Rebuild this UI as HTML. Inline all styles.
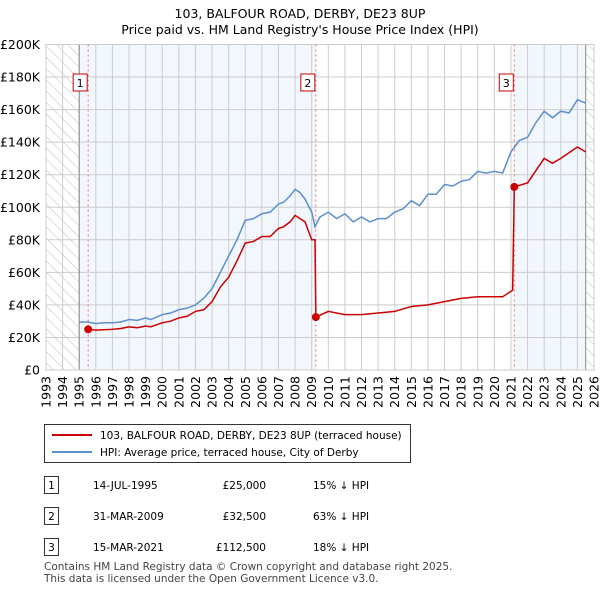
<!DOCTYPE html>
<html><head><meta charset="utf-8"><style>
body{margin:0;background:#fff;font-family:"Liberation Sans","DejaVu Sans",sans-serif;}
svg{display:block}
text{font-family:"DejaVu Sans","Liberation Sans",sans-serif;}
</style></head><body>
<svg id="c" width="600" height="590" xmlns="http://www.w3.org/2000/svg">
<defs><pattern id="hatch" width="8" height="8" patternUnits="userSpaceOnUse" patternTransform="rotate(-45)"><line x1="0" y1="0" x2="0" y2="8" stroke="#bbb" stroke-width="1"/></pattern></defs>
<text x="300" y="18" text-anchor="middle" font-size="12.5">103, BALFOUR ROAD, DERBY, DE23 8UP</text>
<text x="300" y="34" text-anchor="middle" font-size="12.5">Price paid vs. HM Land Registry's House Price Index (HPI)</text>
<g id="plot"></g>
<g>
<rect x="44.5" y="424.5" width="366" height="38" fill="#fff" stroke="#333"/>
<line x1="52" y1="435" x2="92" y2="435" stroke="#cc0000" stroke-width="2"/>
<text x="100" y="439" font-size="10.5">103, BALFOUR ROAD, DERBY, DE23 8UP (terraced house)</text>
<line x1="52" y1="452" x2="92" y2="452" stroke="#5b8fd0" stroke-width="2"/>
<text x="100" y="456" font-size="10.5">HPI: Average price, terraced house, City of Derby</text>
</g>
<g id="table" font-size="10.5"></g>
<text x="44" y="570" font-size="10.5" fill="#444">Contains HM Land Registry data © Crown copyright and database right 2025.</text>
<text x="44" y="582" font-size="10.5" fill="#444">This data is licensed under the Open Government Licence v3.0.</text>
</svg>
<script>
const hpiYears=[1995,1995.5,1996,1996.5,1997,1997.5,1998,1998.5,1999,1999.3,2000,2000.5,2001,2001.5,2002,2002.5,2003,2003.5,2004,2004.5,2005,2005.5,2006,2006.5,2007,2007.3,2007.7,2008,2008.3,2008.6,2009,2009.2,2009.5,2010,2010.5,2011,2011.5,2012,2012.5,2013,2013.5,2014,2014.5,2015,2015.5,2016,2016.5,2017,2017.5,2018,2018.5,2019,2019.5,2020,2020.5,2021,2021.5,2022,2022.5,2023,2023.5,2024,2024.5,2025,2025.5];
const hpiValues=[29.5,29.5,28.5,29,29,29.5,31,30.5,32,31,34,35,37,38,40,44,50,60,70,80,92,93,96,97,102,103,107,111,109,105,97,88,94,97,93,96,91,94,91,93,93,97,99,104,101,108,108,114,113,116,117,122,121,122,121,134,141,143,152,159,155,159,158,166,164];
const priceYears=[1995.54,1996,1997,1997.5,1998,1998.5,1999,1999.3,2000,2000.5,2001,2001.5,2002,2002.5,2003,2003.5,2004,2004.5,2005,2005.5,2006,2006.5,2007,2007.3,2007.7,2008,2008.3,2008.6,2009,2009.2,2009.25,2010,2011,2012,2013,2014,2015,2016,2017,2018,2019,2020,2020.5,2021.1,2021.2,2022,2023,2023.5,2024,2025,2025.5];
const priceValues=[25,24.5,25,25.5,26.5,26,27,26.5,29,30,32,33,36,37,42,51,57,67,78,79,82,82,87,88,91,95,93,91,80,80,32.5,36,34,34,35,36,39,40,42,44,45,45,45,49,112.5,115,130,127,130,137,134];
const saleLabels=["1","2","3"];
const saleYears=[1995.54,2009.25,2021.2];
const saleValues=[25,32.5,112.5];
const saleDates=["14-JUL-1995","31-MAR-2009","15-MAR-2021"];
const salePrices=["£25,000","£32,500","£112,500"];
const saleHpi=["15% ↓ HPI","63% ↓ HPI","18% ↓ HPI"];
const yTicks=[0,20,40,60,80,100,120,140,160,180,200];
const xTicks=[1993,1994,1995,1996,1997,1998,1999,2000,2001,2002,2003,2004,2005,2006,2007,2008,2009,2010,2011,2012,2013,2014,2015,2016,2017,2018,2019,2020,2021,2022,2023,2024,2025,2026];

const X0=46,X1=594,Y0=370,Y1=44.5;
const xs=y=>X0+(y-1993)/(2026-1993)*(X1-X0);
const ys=v=>Y0-v/200*(Y0-Y1);
const NS="http://www.w3.org/2000/svg";
const g=document.getElementById('plot');
function el(t,a,p){const e=document.createElementNS(NS,t);for(const k in a)e.setAttribute(k,a[k]);(p||g).appendChild(e);return e;}
let e;
e=el('rect',{x:X0,y:Y1,width:X1-X0,height:Y0-Y1,fill:'#fff'});


e=el('rect',{x:xs(1995),y:Y1,width:xs(saleYears[1])-xs(1995),height:Y0-Y1,fill:'#eef3fc',opacity:0.75});


e=el('rect',{x:xs(saleYears[2]),y:Y1,width:xs(2025.5)-xs(saleYears[2]),height:Y0-Y1,fill:'#eef3fc',opacity:0.75});


e=el('rect',{x:X0,y:Y1,width:xs(1995)-X0,height:Y0-Y1,fill:'url(#hatch)'});


e=el('rect',{x:xs(2025.5),y:Y1,width:X1-xs(2025.5),height:Y0-Y1,fill:'url(#hatch)'});


yTicks.forEach(v=>{
 e=el('line',{x1:X0,x2:X1,y1:ys(v),y2:ys(v),stroke:'#ccc'});
 
 
 e=el('text',{x:40,y:ys(v)+4.5,'text-anchor':'end','font-size':12.5});
 e.textContent=v===0?'£0':'£'+v+'K';
 
 
});
xTicks.forEach(y=>{
 e=el('line',{x1:xs(y),x2:xs(y),y1:Y1,y2:Y0,stroke:'#ccc'});
 
 
 e=el('text',{x:0,y:0,'text-anchor':'end','font-size':12.5,transform:`translate(${xs(y)+4.5},${Y0+6}) rotate(-90)`});
 e.textContent=y;
 
 
});
e=el('line',{x1:xs(1995),x2:xs(1995),y1:Y1,y2:Y0,stroke:'#888'});


e=el('line',{x1:xs(2025.5),x2:xs(2025.5),y1:Y1,y2:Y0,stroke:'#888'});


e=el('rect',{x:X0,y:Y1,width:X1-X0,height:Y0-Y1,fill:'none',stroke:'#ccc'});


saleYears.forEach((y,i)=>{
 e=el('line',{x1:xs(y),x2:xs(y),y1:Y1,y2:Y0,stroke:'#f07070','stroke-dasharray':'2,3'});
 
 
 e=el('rect',{x:xs(y)-15,y:74,width:14,height:17,fill:'#fff',stroke:'#cc0000'});
 
 
 e=el('text',{x:xs(y)-8,y:87,'text-anchor':'middle','font-size':11});
 e.textContent=saleLabels[i];
 
 
});
e=el('polyline',{points:hpiYears.map((y,i)=>xs(y)+','+ys(hpiValues[i])).join(' '),fill:'none',stroke:'#5b8fd0','stroke-width':1.5});


e=el('polyline',{points:priceYears.map((y,i)=>xs(y)+','+ys(priceValues[i])).join(' '),fill:'none',stroke:'#cc0000','stroke-width':1.5});


saleYears.forEach((y,i)=>{
 e=el('circle',{cx:xs(y),cy:ys(saleValues[i]),r:4,fill:'#cc0000'});
 
 
});
const t=document.getElementById('table');
saleYears.forEach((y,i)=>{
 const cy=486+i*31;
 e=el('rect',{x:44.5,y:cy-9.5,width:14,height:17,fill:'#fff',stroke:'#333'},t);
 
 
 e=el('text',{x:51.5,y:cy+3,'text-anchor':'middle'},t);e.textContent=saleLabels[i];
 
 
 e=el('text',{x:93,y:cy+3},t);e.textContent=saleDates[i];
 
 
 e=el('text',{x:266,y:cy+3,'text-anchor':'end'},t);e.textContent=salePrices[i];
 
 
 e=el('text',{x:313,y:cy+3},t);e.textContent=saleHpi[i];
 
 
});
</script>
</body></html>
